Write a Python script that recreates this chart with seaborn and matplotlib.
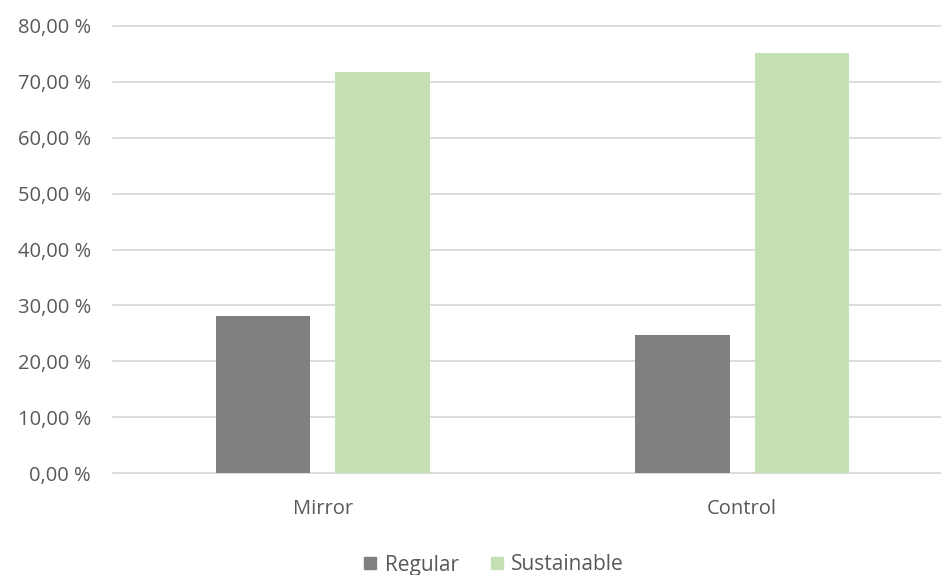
import matplotlib
matplotlib.use("Agg")
import matplotlib.pyplot as plt
import matplotlib.ticker as mticker
from matplotlib.lines import Line2D
import seaborn as sns
import pandas as pd

# Share of choices per condition (percent)
conditions = ["Mirror", "Control"]
regular = [28.1, 24.7]
sustainable = [71.7, 75.1]
series_names = ["Regular", "Sustainable"]
y_ticks = [0, 10, 20, 30, 40, 50, 60, 70, 80]

colors = {"Regular": "#7f7f7f", "Sustainable": "#c5e0b4"}
text_color = "#595959"
grid_color = "#d9d9d9"

df = pd.DataFrame({
    "condition": conditions * 2,
    "series": [series_names[0]] * len(conditions) + [series_names[1]] * len(conditions),
    "share": regular + sustainable,
})

sns.set_theme(style="white")
plt.rcParams["font.family"] = ["Open Sans", "DejaVu Sans"]

fig = plt.figure(figsize=(9.41, 5.75), dpi=100)
W, H = 941, 575
x0, x1, y_top, y_bot = 113, 952, 26, 473
ax = fig.add_axes([x0 / W, (H - y_bot) / H, (x1 - x0) / W, (y_bot - y_top) / H])

sns.barplot(data=df, x="condition", y="share", hue="series", order=conditions,
            hue_order=series_names, palette=colors, width=0.57, gap=0.21,
            saturation=1, legend=False, ax=ax, linewidth=0)

ax.set_xlim(-0.5, 1.5)
ax.set_ylim(0, 80)
ax.set_yticks(y_ticks)
ax.yaxis.set_major_formatter(mticker.FuncFormatter(lambda v, _: f"{v:.2f} %".replace(".", ",")))
ax.grid(axis="y", color=grid_color, linewidth=1.3)
for gl in ax.get_ygridlines():
    gl.set_clip_on(False)
ax.set_axisbelow(True)
for s in ax.spines.values():
    s.set_visible(False)
ax.set_xlabel("")
ax.set_ylabel("")
ax.tick_params(axis="y", length=0, pad=16, labelsize=14.5, labelcolor=text_color)
ax.tick_params(axis="x", length=0, pad=19, labelsize=14.5, labelcolor=text_color)

handles = [Line2D([0], [0], marker="s", linestyle="none", markersize=8,
                  markerfacecolor=colors[n], markeredgecolor=colors[n]) for n in series_names]
fig.legend(handles, series_names, loc="center", bbox_to_anchor=(493 / W, 1 - 565 / H),
           ncol=2, frameon=False, fontsize=15, labelcolor=text_color,
           handletextpad=0.3, columnspacing=1.4, handlelength=0.8)

fig.savefig("out.png", dpi=100)
